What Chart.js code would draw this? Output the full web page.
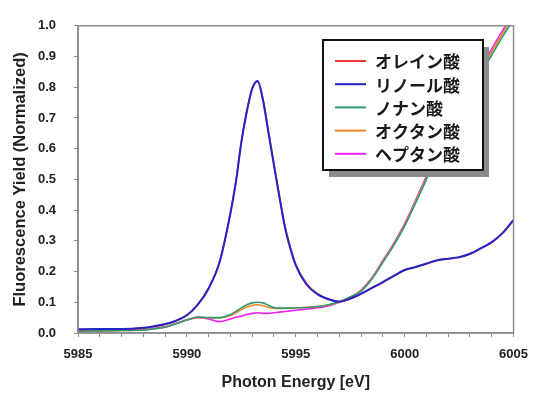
<!DOCTYPE html>
<html>
<head>
<meta charset="utf-8">
<script src="https://cdn.jsdelivr.net/npm/chart.js@4"></script>
<style>
	html, body { margin: 0; padding: 0; background: #fff; }
	#wrap { width: 538px; height: 394px; }
</style>
</head>
<body>
<div id="wrap"><canvas id="xafsChart" width="538" height="394"></canvas></div>
<script>
var FONT_FAMILY = '"Liberation Sans", Arial, sans-serif';

// photon energy [eV]
var energy = [5985, 5986, 5987, 5988, 5988.5, 5989, 5989.5, 5990, 5990.5, 5991, 5991.5, 5992,
	5992.25, 5992.5, 5992.75, 5993, 5993.25, 5993.5, 5993.75, 5994, 5994.25, 5994.5, 5994.75, 5995,
	5995.5, 5996, 5996.5, 5997, 5997.5, 5998, 5998.5, 5999, 5999.5, 6000,
	6000.5, 6001, 6001.5, 6002, 6002.5, 6003, 6003.5, 6004, 6004.5, 6005];

var seriesNames = ['オレイン酸', 'リノール酸', 'ノナン酸', 'オクタン酸', 'ヘプタン酸'];
var seriesColors = ['#f03a3a', '#2424c8', '#2f9a72', '#f0862a', '#f020f0'];

var oleic = [0.011, 0.013, 0.013, 0.016, 0.021, 0.028, 0.040, 0.058, 0.093, 0.147, 0.232, 0.392,
	0.495, 0.625, 0.722, 0.797, 0.818, 0.760, 0.656, 0.550, 0.447, 0.350, 0.280, 0.224,
	0.160, 0.128, 0.111, 0.103, 0.111, 0.127, 0.146, 0.165, 0.185, 0.204,
	0.214, 0.225, 0.236, 0.241, 0.246, 0.257, 0.275, 0.295, 0.325, 0.366];
var linoleic = [0.012, 0.013, 0.013, 0.017, 0.022, 0.029, 0.040, 0.058, 0.092, 0.145, 0.230, 0.390,
	0.490, 0.620, 0.720, 0.795, 0.820, 0.755, 0.650, 0.545, 0.442, 0.345, 0.275, 0.220,
	0.157, 0.126, 0.110, 0.102, 0.112, 0.128, 0.147, 0.166, 0.186, 0.205,
	0.215, 0.226, 0.237, 0.242, 0.247, 0.258, 0.276, 0.296, 0.326, 0.368];
var nonanoic = [0.006, 0.007, 0.008, 0.010, 0.014, 0.019, 0.030, 0.042, 0.052, 0.050, 0.050, 0.060,
	0.070, 0.082, 0.092, 0.098, 0.100, 0.098, 0.090, 0.083, 0.081, 0.081, 0.081, 0.082,
	0.083, 0.086, 0.092, 0.102, 0.117, 0.136, 0.176, 0.230, 0.285, 0.348,
	0.423, 0.500, 0.588, 0.663, 0.730, 0.790, 0.845, 0.905, 0.965, 1.020];
var octanoic = [0.007, 0.007, 0.008, 0.011, 0.014, 0.019, 0.031, 0.042, 0.051, 0.049, 0.049, 0.057,
	0.066, 0.076, 0.085, 0.090, 0.092, 0.089, 0.084, 0.080, 0.080, 0.080, 0.081, 0.082,
	0.083, 0.086, 0.091, 0.101, 0.117, 0.138, 0.178, 0.233, 0.289, 0.352,
	0.428, 0.506, 0.593, 0.669, 0.737, 0.797, 0.853, 0.915, 0.975, 1.030];
var heptanoic = [0.008, 0.008, 0.009, 0.011, 0.015, 0.020, 0.031, 0.043, 0.050, 0.046, 0.037, 0.046,
	0.051, 0.055, 0.060, 0.064, 0.066, 0.064, 0.064, 0.066, 0.068, 0.070, 0.072, 0.074,
	0.078, 0.082, 0.088, 0.100, 0.116, 0.140, 0.180, 0.236, 0.292, 0.356,
	0.432, 0.512, 0.598, 0.675, 0.742, 0.803, 0.862, 0.925, 0.985, 1.040];

var seriesValues = [oleic, linoleic, nonanoic, octanoic, heptanoic];
// blue is drawn over red, green over orange
var seriesOrder = [2, 0, 3, 4, 5];

var xTickStep = 1, xLabelStep = 5;
var yTickStep = 0.1;

var toPoints = function(vals) {
	return vals.map(function(v, i) { return { x: energy[i], y: v }; });
};

var datasets = seriesNames.map(function(name, i) {
	return {
		label: name,
		data: toPoints(seriesValues[i]),
		borderColor: seriesColors[i],
		backgroundColor: seriesColors[i],
		borderWidth: i === 1 ? 2 : 1.6,
		pointRadius: 0,
		cubicInterpolationMode: 'monotone',
		order: seriesOrder[i]
	};
});

// frame around the plot + boxed legend with drop shadow
var frameLegendPlugin = {
	id: 'frameLegend',
	afterDraw: function(chart) {
		var ctx = chart.ctx, a = chart.chartArea;
		ctx.save();
		ctx.strokeStyle = '#8c8c8c';
		ctx.lineWidth = 1.5;
		ctx.strokeRect(a.left, a.top, a.right - a.left, a.bottom - a.top);

		var bx = 323, by = 40, bw = 160, bh = 130;
		ctx.fillStyle = '#8a8a8a';
		ctx.fillRect(bx + 6, by + 7, bw, bh);
		ctx.fillStyle = '#fff';
		ctx.fillRect(bx, by, bw, bh);
		ctx.strokeStyle = '#111';
		ctx.lineWidth = 2;
		ctx.strokeRect(bx, by, bw, bh);

		ctx.font = 'bold 17px "Noto Sans CJK JP", sans-serif';
		ctx.textBaseline = 'middle';
		chart.data.datasets.forEach(function(ds, i) {
			var y = by + 21 + i * 23.2;
			ctx.strokeStyle = ds.borderColor;
			ctx.lineWidth = 2;
			ctx.beginPath();
			ctx.moveTo(bx + 12, y);
			ctx.lineTo(bx + 43, y);
			ctx.stroke();
			ctx.fillStyle = '#1a1a1a';
			ctx.fillText(ds.label, bx + 52, y + 1);
		});
		ctx.restore();
	}
};

var ctx = document.getElementById('xafsChart');
var xafsChart = new Chart(ctx, {
	type: 'line',
	data: { datasets: datasets },
	options: {
		responsive: false,
		animation: false,
		layout: { padding: { left: 0, right: 23, top: 17, bottom: 0 } },
		plugins: {
			legend: { display: false },
			tooltip: { enabled: false }
		},
		scales: {
			x: {
				type: 'linear',
				min: 5985,
				max: 6005,
				afterFit: function(scale) { scale.height = 61; },
				border: { color: '#8c8c8c', width: 1.5 },
				grid: { drawOnChartArea: false, drawTicks: true, tickLength: 4, color: '#8c8c8c' },
				ticks: {
					stepSize: xTickStep,
					autoSkip: false,
					maxRotation: 0,
					padding: 10,
					color: '#222',
					font: { family: FONT_FAMILY, size: 13, weight: 'bold' },
					callback: function(v) { return v % xLabelStep === 0 ? String(v) : ''; }
				},
				title: {
					display: true,
					text: 'Photon Energy [eV]',
					color: '#222',
					padding: { top: 0, bottom: 2 },
					font: { family: FONT_FAMILY, size: 16, weight: 'bold' }
				}
			},
			y: {
				min: 0,
				max: 1,
				afterFit: function(scale) { scale.width = 78; },
				border: { color: '#8c8c8c', width: 1.5 },
				grid: { drawOnChartArea: false, drawTicks: true, tickLength: 4, color: '#8c8c8c' },
				ticks: {
					stepSize: yTickStep,
					padding: 18,
					color: '#222',
					font: { family: FONT_FAMILY, size: 13, weight: 'bold' },
					callback: function(v) { return v.toFixed(1); }
				},
				title: {
					display: true,
					text: 'Fluorescence Yield (Normalized)',
					color: '#222',
					padding: { top: 11, bottom: 0 },
					font: { family: FONT_FAMILY, size: 16.5, weight: 'bold' }
				}
			}
		}
	},
	plugins: [frameLegendPlugin]
});
</script>
</body>
</html>
